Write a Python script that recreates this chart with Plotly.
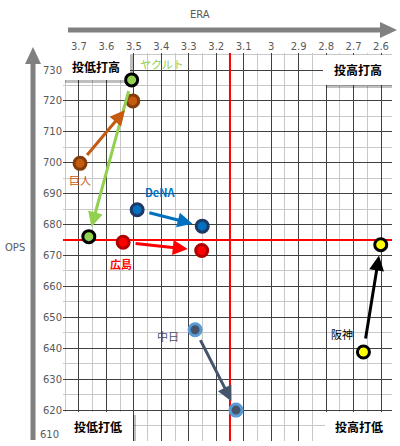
import plotly.graph_objects as go

# ---- data ----
teams = ["ヤクルト", "巨人", "DeNA", "広島", "中日", "阪神"]
era_start = [3.508, 3.696, 3.488, 3.539, 3.277, 2.664]
ops_start = [726.8, 699.8, 684.8, 674.3, 646.0, 638.8]
era_end = [3.664, 3.504, 3.251, 3.253, 3.128, 2.601]
ops_end = [676.1, 720.0, 679.5, 671.6, 620.0, 673.5]
label_x = [3.398, 3.696, 3.405, 3.548, 3.376, 2.743]
label_y = [731.9, 694.5, 690.4, 667.3, 643.9, 644.5]
era_avg = 3.15
ops_avg = 675
x_range = [3.758, 2.56]
y_range = [610, 735.5]
x_ticks = [3.7, 3.6, 3.5, 3.4, 3.3, 3.2, 3.1, 3.0, 2.9, 2.8, 2.7, 2.6]
x_ticktext = ["3.7", "3.6", "3.5", "3.4", "3.3", "3.2", "3.1", "3", "2.9", "2.8", "2.7", "2.6"]
y_ticks = [620, 630, 640, 650, 660, 670, 680, 690, 700, 710, 720, 730]
quadrants = ["投低打高", "投高打高", "投低打低", "投高打低"]

# ---- styles ----
fill = ["#92d050", "#c55a11", "#0070c0", "#ff0000", "#44546a", "#ffff00"]
ring = ["#000000", "#843c0c", "#1f3864", "#b00000", "#5b9bd5", "#000000"]
arrow_col = ["#92d050", "#c55a11", "#0070c0", "#ff0000", "#44546a", "#000000"]
label_col = ["#92d050", "#c55a11", "#0070c0", "#ff0000", "#44546a", "#000000"]
label_bold = [False, False, True, True, False, False]
head_std = [10, 12, 10, 14, 10, 11]
tail_std = [10, 9, 11, 11, 10, 12]

W, H = 400, 446
ML, MR, MT, MB = 63, 8, 53, 5
PW, PH = W - ML - MR, H - MT - MB


def px(x):
    return (x - ML) / PW


def py(y):
    return (H - MB - y) / PH


def dx(x):  # pixel -> data x (decoration placement only)
    return x_range[0] + px(x) * (x_range[1] - x_range[0])


def dy(y):  # pixel -> data y (decoration placement only)
    return y_range[0] + py(y) * (y_range[1] - y_range[0])


JP = "Noto Sans CJK JP"
fig = go.Figure()

# quadrant boxes (pixel boxes: x0, y0, x1, y1) drawn under the marks
boxes = [(62, 52, 130, 80), (323, 55, 392, 85), (62, 412, 133, 441), (325, 412, 392, 441)]
for (x0, y0, x1, y1), q in zip(boxes, quadrants):
    for off, col in ((3, "rgba(0,0,0,0.25)"), (0, "#ffffff")):
        xs = [dx(x0 + off), dx(x1 + off), dx(x1 + off), dx(x0 + off), dx(x0 + off)]
        ys = [dy(y0 + off), dy(y0 + off), dy(y1 + off), dy(y1 + off), dy(y0 + off)]
        fig.add_trace(go.Scatter(x=xs, y=ys, mode="lines", fill="toself", fillcolor=col,
                                 line=dict(width=0, color=col), showlegend=False,
                                 hoverinfo="skip"))
    fig.add_annotation(x=px((x0 + x1) / 2), y=py((y0 + y1) / 2), xref="paper", yref="paper",
                       xanchor="center", yanchor="middle",
                       text=f"<b>{q}</b>", showarrow=False,
                       font=dict(family=JP, size=12, color="#000000"))

# average lines (below markers)
fig.add_trace(go.Scatter(x=[era_avg, era_avg], y=y_range, mode="lines", showlegend=False,
                         hoverinfo="skip", line=dict(color="#ff0000", width=2)))
fig.add_trace(go.Scatter(x=x_range, y=[ops_avg, ops_avg], mode="lines", showlegend=False,
                         hoverinfo="skip", line=dict(color="#ff0000", width=2)))

for i, t in enumerate(teams):
    fig.add_trace(go.Scatter(
        x=[era_start[i], era_end[i]], y=[ops_start[i], ops_end[i]],
        mode="markers", showlegend=False, hoverinfo="skip",
        marker=dict(size=12, color=fill[i], line=dict(width=3, color=ring[i])),
    ))
    fig.add_annotation(
        x=era_end[i], y=ops_end[i], ax=era_start[i], ay=ops_start[i],
        xref="x", yref="y", axref="x", ayref="y", text="",
        showarrow=True, arrowhead=2, arrowsize=1, arrowwidth=3,
        arrowcolor=arrow_col[i], standoff=head_std[i], startstandoff=tail_std[i],
    )
    txt = f"<b>{t}</b>" if label_bold[i] else t
    fig.add_annotation(
        x=label_x[i], y=label_y[i], xref="x", yref="y", text=txt, showarrow=False,
        xanchor="center", yanchor="middle",
        font=dict(family=JP, size=11, color=label_col[i]),
    )

# axis arrows
fig.add_shape(type="line", xref="paper", yref="paper", x0=px(68), x1=px(382), y0=py(30), y1=py(30),
              line=dict(color="#808080", width=5))
fig.add_shape(type="path", xref="paper", yref="paper",
              path=f"M {px(380)} {py(22)} L {px(397)} {py(30)} L {px(380)} {py(38)} Z",
              fillcolor="#808080", line=dict(width=0))
fig.add_shape(type="line", xref="paper", yref="paper", x0=px(33), x1=px(33), y0=py(440), y1=py(62),
              line=dict(color="#808080", width=5))
fig.add_shape(type="path", xref="paper", yref="paper",
              path=f"M {px(25)} {py(64)} L {px(33)} {py(47)} L {px(41)} {py(64)} Z",
              fillcolor="#808080", line=dict(width=0))

fig.add_annotation(x=px(200), y=py(15), xref="paper", yref="paper", text="ERA", showarrow=False,
                   xanchor="center", yanchor="middle",
                   font=dict(family="DejaVu Sans", size=10, color="#595959"))
fig.add_annotation(x=px(15), y=py(247), xref="paper", yref="paper", text="OPS", showarrow=False,
                   xanchor="center", yanchor="middle",
                   font=dict(family="DejaVu Sans", size=10, color="#595959"))
fig.add_annotation(x=px(61), y=py(434), xref="paper", yref="paper", text="610", showarrow=False,
                   xanchor="right", yanchor="middle",
                   font=dict(family="DejaVu Sans", size=10, color="#595959"))

fig.update_layout(
    width=W, height=H, margin=dict(l=ML, r=MR, t=MT, b=MB),
    paper_bgcolor="#ffffff", plot_bgcolor="#ffffff",
    xaxis=dict(range=x_range, side="top", tickvals=x_ticks, ticktext=x_ticktext,
               showgrid=True, gridcolor="#404040", gridwidth=1, zeroline=False,
               ticks="", ticklen=0,
               tickfont=dict(family="DejaVu Sans", size=10, color="#595959"),
               minor=dict(dtick=0.05, tick0=2.6, showgrid=True, gridcolor="#c8c8c8", gridwidth=1)),
    yaxis=dict(range=y_range, tickvals=y_ticks,
               showgrid=True, gridcolor="#404040", gridwidth=1, zeroline=False,
               ticks="", ticklen=0,
               tickfont=dict(family="DejaVu Sans", size=10, color="#595959"),
               minor=dict(dtick=5, tick0=610, showgrid=True, gridcolor="#c8c8c8", gridwidth=1)),
)

fig.write_html("out.html", config={"displayModeBar": False},
               post_script="document.body.style.margin='0';")
